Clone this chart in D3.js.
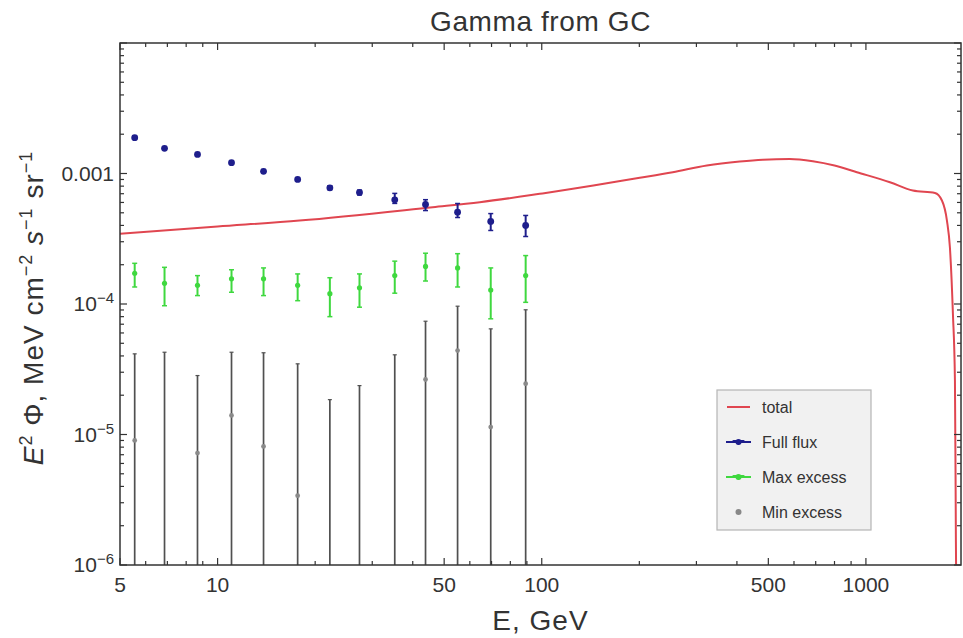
<!DOCTYPE html>
<html>
<head>
<meta charset="utf-8">
<script src="https://d3js.org/d3.v7.min.js"></script>
<style>
  body { margin: 0; background: #fff; }
  text { font-family: "Liberation Sans", Arial, sans-serif; fill: #333; }
</style>
</head>
<body>
<svg id="chart" width="963" height="638"></svg>
<script>
// energy bins (GeV)
var binE = [5.55, 6.86, 8.67, 11.04, 13.86, 17.66, 22.2, 27.4, 35.2, 43.8, 55.0, 69.6, 89.2];

// full flux
var fullMid = [1.88e-3, 1.56e-3, 1.40e-3, 1.21e-3, 1.04e-3, 9.0e-4, 7.77e-4, 7.15e-4, 6.29e-4, 5.79e-4, 5.05e-4, 4.29e-4, 4.0e-4];
var fullLow = [1.84e-3, 1.53e-3, 1.37e-3, 1.18e-3, 1.01e-3, 8.75e-4, 7.5e-4, 6.85e-4, 5.9e-4, 5.2e-4, 4.6e-4, 3.66e-4, 3.29e-4];
var fullHigh = [1.92e-3, 1.59e-3, 1.43e-3, 1.24e-3, 1.07e-3, 9.25e-4, 8.05e-4, 7.45e-4, 7.04e-4, 6.3e-4, 5.89e-4, 4.93e-4, 4.77e-4];

// max excess
var maxMid = [1.72e-4, 1.44e-4, 1.39e-4, 1.56e-4, 1.56e-4, 1.39e-4, 1.20e-4, 1.33e-4, 1.65e-4, 1.94e-4, 1.89e-4, 1.28e-4, 1.65e-4];
var maxLow = [1.35e-4, 9.7e-5, 1.16e-4, 1.23e-4, 1.16e-4, 1.06e-4, 8.0e-5, 9.45e-5, 1.21e-4, 1.50e-4, 1.35e-4, 7.7e-5, 1.03e-4];
var maxHigh = [2.05e-4, 1.91e-4, 1.65e-4, 1.83e-4, 1.89e-4, 1.70e-4, 1.59e-4, 1.70e-4, 2.13e-4, 2.45e-4, 2.43e-4, 1.89e-4, 2.35e-4];

// min excess (null = below the plot range)
var minMid = [9.0e-6, null, 7.2e-6, 1.4e-5, 8.1e-6, 3.4e-6, null, null, null, 2.64e-5, 4.4e-5, 1.14e-5, 2.45e-5];
var minHigh = [4.15e-5, 4.27e-5, 2.83e-5, 4.27e-5, 4.23e-5, 3.48e-5, 1.85e-5, 2.37e-5, 4.08e-5, 7.38e-5, 9.62e-5, 6.45e-5, 9.03e-5];

// model total
var totalE = [5, 10, 17.9, 46.1, 64.4, 98.6, 124.7, 158.7, 200.6, 253.6, 323, 408, 481, 582, 686, 800, 938, 1186, 1396, 1633, 1716, 1778, 1816, 1855, 1882, 1895, 1910];
var totalFlux = [3.45e-4, 3.92e-4, 4.36e-4, 5.52e-4, 6.03e-4, 6.99e-4, 7.63e-4, 8.43e-4, 9.27e-4, 1.023e-3, 1.152e-3, 1.235e-3, 1.275e-3, 1.29e-3, 1.24e-3, 1.15e-3, 1.023e-3, 8.58e-4, 7.40e-4, 7.09e-4, 6.21e-4, 4.36e-4, 2.71e-4, 8.46e-5, 2.59e-5, 1.5e-6, 1e-7];

// ticks
var xMajor = [5, 10, 50, 100, 500, 1000];
var xMinor = [6, 7, 8, 9, 20, 30, 40, 60, 70, 80, 90, 200, 300, 400, 600, 700, 800, 900, 2000];
var yMajor = [1e-6, 1e-5, 1e-4, 1e-3, 1e-2];
var yLabels = [["10", "\u22126"], ["10", "\u22125"], ["10", "\u22124"], ["0.001", ""], null];

var legendItems = [
    { name: "total", kind: "line", color: "#e04650" },
    { name: "Full flux", kind: "bar", color: "#1e1e8c" },
    { name: "Max excess", kind: "bar", color: "#3fd83f" },
    { name: "Min excess", kind: "dot", color: "#888" }
];

var pLeft = 120, pRight = 961, pTop = 43, pBottom = 565;
var svg = d3.select("#chart");

var x = d3.scaleLog().domain([5, 2000]).range([pLeft, pRight + 2.5]);
var y = d3.scaleLog().domain([1e-6, 1e-2]).range([pBottom, pTop]);

svg.append("clipPath").attr("id", "plotclip")
    .append("rect").attr("x", pLeft).attr("y", pTop)
    .attr("width", pRight - pLeft).attr("height", pBottom - pTop);

var plot = svg.append("g").attr("clip-path", "url(#plotclip)");

function yClamp(v) {
    if (v === null) { return pBottom + 2; }
    return y(v);
}

// min excess bars
var minG = plot.append("g");
binE.forEach(function (e, i) {
    var cx = x(e);
    minG.append("line")
        .attr("x1", cx).attr("x2", cx)
        .attr("y1", yClamp(minHigh[i])).attr("y2", pBottom + 2)
        .attr("stroke", "#505050").attr("stroke-width", 1.7);
    minG.append("line")
        .attr("x1", cx - 2).attr("x2", cx + 2)
        .attr("y1", yClamp(minHigh[i])).attr("y2", yClamp(minHigh[i]))
        .attr("stroke", "#505050").attr("stroke-width", 1.2);
    if (minMid[i] !== null) {
        minG.append("circle").attr("cx", cx).attr("cy", y(minMid[i]))
            .attr("r", 2.4).attr("fill", "#8a8a8a");
    }
});

function errorSeries(mid, low, high, color, r, sw) {
    var g = plot.append("g");
    binE.forEach(function (e, i) {
        var cx = x(e);
        g.append("line")
            .attr("x1", cx).attr("x2", cx)
            .attr("y1", y(high[i])).attr("y2", y(low[i]))
            .attr("stroke", color).attr("stroke-width", sw);
        [low[i], high[i]].forEach(function (v) {
            g.append("line")
                .attr("x1", cx - 2.5).attr("x2", cx + 2.5)
                .attr("y1", y(v)).attr("y2", y(v))
                .attr("stroke", color).attr("stroke-width", 1.5);
        });
        g.append("circle").attr("cx", cx).attr("cy", y(mid[i]))
            .attr("r", r).attr("fill", color);
    });
}

errorSeries(maxMid, maxLow, maxHigh, "#3fd83f", 2.6, 2);

var line = d3.line()
    .x(function (d) { return x(d[0]); })
    .y(function (d) { return y(d[1]); })
    .curve(d3.curveMonotoneX);

plot.append("path")
    .datum(d3.zip(totalE, totalFlux))
    .attr("d", line)
    .attr("fill", "none")
    .attr("stroke", "#e04650")
    .attr("stroke-width", 2);

errorSeries(fullMid, fullLow, fullHigh, "#1e1e8c", 3.4, 2);

// frame
svg.append("rect")
    .attr("x", pLeft).attr("y", pTop)
    .attr("width", pRight - pLeft).attr("height", pBottom - pTop)
    .attr("fill", "none").attr("stroke", "#333").attr("stroke-width", 1.5);

var ticks = svg.append("g").attr("stroke", "#333").attr("stroke-width", 1.2);
function xTick(v, len) {
    var px = x(v);
    if (px > pRight) { return; }
    ticks.append("line").attr("x1", px).attr("x2", px).attr("y1", pBottom).attr("y2", pBottom - len);
    ticks.append("line").attr("x1", px).attr("x2", px).attr("y1", pTop).attr("y2", pTop + len);
}
xMajor.forEach(function (v) { xTick(v, 7); });
xMinor.forEach(function (v) { xTick(v, 4); });

function yTick(v, len) {
    var py = y(v);
    ticks.append("line").attr("x1", pLeft).attr("x2", pLeft + len).attr("y1", py).attr("y2", py);
    ticks.append("line").attr("x1", pRight).attr("x2", pRight - len).attr("y1", py).attr("y2", py);
}
yMajor.forEach(function (v, i) {
    yTick(v, 7);
    if (i < yMajor.length - 1) {
        for (var k = 2; k <= 9; k++) { yTick(v * k, 4); }
    }
});

// tick labels
svg.append("g").selectAll("text")
    .data(xMajor)
    .enter()
    .append("text")
    .attr("x", function (d) { return x(d); })
    .attr("y", 592)
    .attr("text-anchor", "middle")
    .attr("font-size", 21)
    .text(function (d) { return d; });

yMajor.forEach(function (v, i) {
    var lab = yLabels[i];
    if (!lab) { return; }
    var t = svg.append("text")
        .attr("x", 114)
        .attr("y", y(v) + 7)
        .attr("text-anchor", "end")
        .attr("font-size", 21);
    t.append("tspan").text(lab[0]);
    if (lab[1]) {
        t.append("tspan").attr("dy", -8).attr("font-size", 15).text(lab[1]);
    }
});

// title and axis labels
svg.append("text")
    .attr("x", (pLeft + pRight) / 2)
    .attr("y", 31)
    .attr("text-anchor", "middle")
    .attr("font-size", 28)
    .attr("letter-spacing", 0.6)
    .text("Gamma from GC");

svg.append("text")
    .attr("x", (pLeft + pRight) / 2)
    .attr("y", 630)
    .attr("text-anchor", "middle")
    .attr("font-size", 28)
    .attr("letter-spacing", 1)
    .text("E, GeV");

var yl = svg.append("text")
    .attr("transform", "translate(43,308) rotate(-90)")
    .attr("text-anchor", "middle")
    .attr("font-size", 28)
    .attr("letter-spacing", 1);
yl.append("tspan").attr("font-style", "italic").text("E");
yl.append("tspan").attr("dy", -11).attr("font-size", 18).text("2");
yl.append("tspan").attr("dy", 11).text(" \u03A6, MeV cm");
yl.append("tspan").attr("dy", -11).attr("font-size", 18).text("\u22122");
yl.append("tspan").attr("dy", 11).text(" ");
yl.append("tspan").attr("font-style", "italic").text("s");
yl.append("tspan").attr("dy", -11).attr("font-size", 18).text("\u22121");
yl.append("tspan").attr("dy", 11).text(" sr");
yl.append("tspan").attr("dy", -11).attr("font-size", 18).text("\u22121");

// legend
var lg = svg.append("g").attr("transform", "translate(717,390)");
lg.append("rect")
    .attr("width", 154).attr("height", 140)
    .attr("fill", "#f1f1f1").attr("stroke", "#b5b5b5").attr("stroke-width", 1.2);

var rows = lg.selectAll(".legendrow")
    .data(legendItems)
    .enter()
    .append("g")
    .classed("legendrow", true)
    .attr("transform", function (d, i) { return "translate(0," + (17 + i * 35) + ")"; });

rows.each(function (d) {
    var g = d3.select(this);
    if (d.kind === "line") {
        g.append("line").attr("x1", 10).attr("x2", 33).attr("y1", 0).attr("y2", 0)
            .attr("stroke", d.color).attr("stroke-width", 2);
    } else if (d.kind === "bar") {
        g.append("line").attr("x1", 9).attr("x2", 34).attr("y1", 0).attr("y2", 0)
            .attr("stroke", d.color).attr("stroke-width", 2);
        g.append("path").attr("d", "M15,-2 L28,-2 L21.5,3 Z").attr("fill", d.color);
        g.append("circle").attr("cx", 21.5).attr("cy", 0).attr("r", 3).attr("fill", d.color);
    } else {
        g.append("circle").attr("cx", 21.5).attr("cy", 0).attr("r", 3).attr("fill", d.color);
    }
});

rows.append("text")
    .attr("x", 45)
    .attr("y", 6)
    .attr("font-size", 16)
    .text(function (d) { return d.name; });
</script>
</body>
</html>
